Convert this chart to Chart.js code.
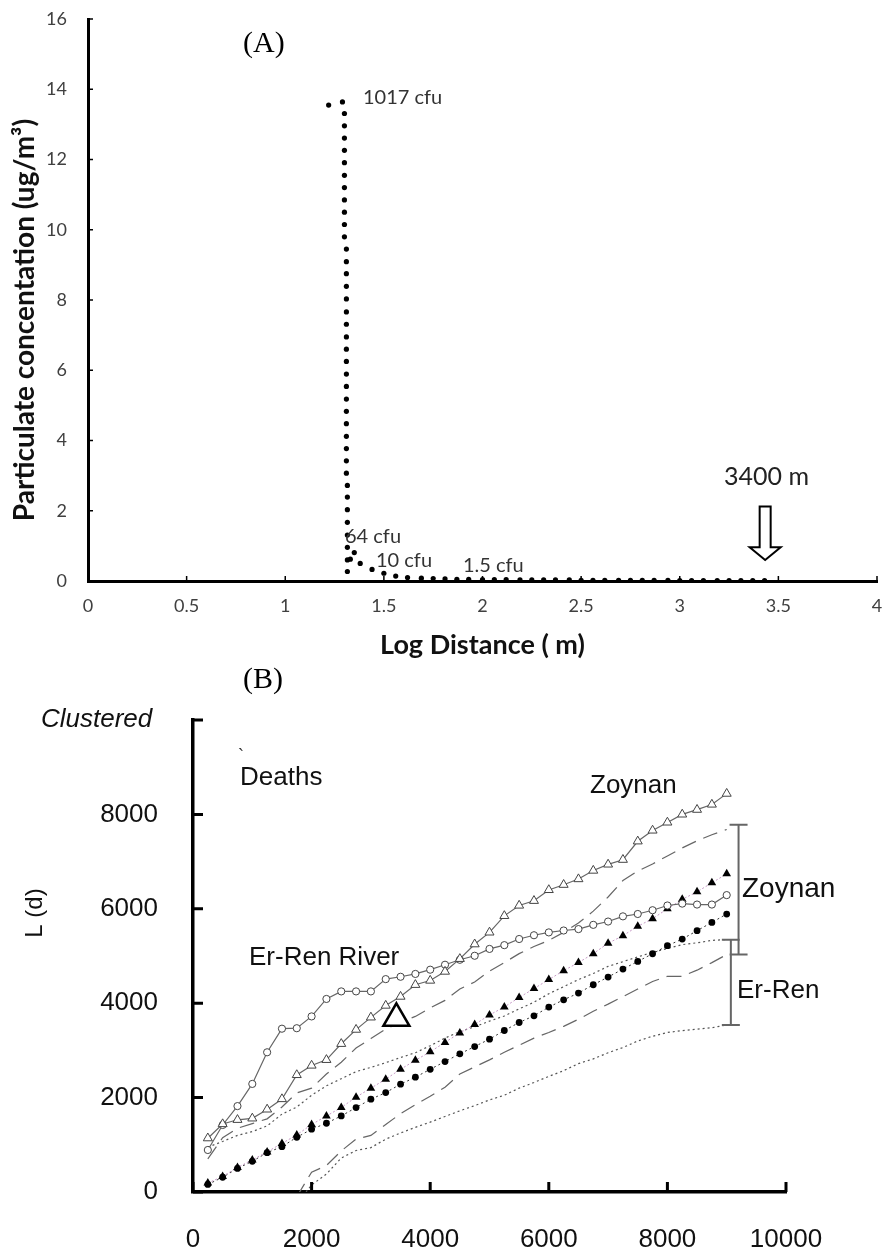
<!DOCTYPE html>
<html>
<head>
<meta charset="utf-8">
<script src="https://cdn.jsdelivr.net/npm/chart.js@4.4.1/dist/chart.umd.min.js"></script>
<style>
  body { margin: 0; background: #fff; width: 883px; height: 1257px; overflow: hidden; }
  .panel { position: absolute; left: 0; width: 883px; }
  #wrapA { top: 0; height: 665px; }
  #wrapB { top: 665px; height: 592px; }
</style>
</head>
<body>
<div class="panel" id="wrapA"><canvas id="chartA" width="883" height="665"></canvas></div>
<div class="panel" id="wrapB"><canvas id="chartB" width="883" height="592"></canvas></div>
<script>
// ---- (A) particulate concentration against log distance ----
// steep drop near the source
var dropX = [1.22, 1.29,
  1.30, 1.30, 1.30, 1.30, 1.30, 1.30, 1.30, 1.30, 1.30, 1.30, 1.30,
  1.31, 1.31, 1.31, 1.31, 1.31, 1.31, 1.31, 1.31, 1.31, 1.31, 1.31, 1.31, 1.31, 1.31, 1.31, 1.31, 1.31, 1.31, 1.31,
  1.315, 1.315, 1.315, 1.315, 1.315, 1.315, 1.315, 1.315];
var dropY = [13.55, 13.64,
  13.31, 12.96, 12.61, 12.26, 11.91, 11.55, 11.20, 10.85, 10.50, 10.15, 9.80,
  9.45, 9.09, 8.75, 8.39, 8.03, 7.66, 7.31, 6.95, 6.60, 6.25, 5.89, 5.54, 5.18, 4.83, 4.48, 4.12, 3.77, 3.42,
  3.07, 2.72, 2.39, 2.03, 1.67, 1.31, 0.96, 0.60, 0.27];
// the bend after 64 cfu
var bendX = [1.35, 1.33, 1.38, 1.44];
var bendY = [0.81, 0.62, 0.50, 0.33];
// long tail out to 3400 m
var tailX = [1.50, 1.56, 1.62, 1.69, 1.75, 1.81, 1.87, 1.93, 2.00, 2.06, 2.12, 2.19, 2.25, 2.31, 2.37, 2.44,
  2.50, 2.56, 2.62, 2.69, 2.75, 2.81, 2.87, 2.94, 3.00, 3.06, 3.12, 3.19, 3.25, 3.31, 3.37, 3.43];
var tailY = [0.22, 0.14, 0.10, 0.08, 0.07, 0.06, 0.05, 0.05, 0.04, 0.04, 0.04, 0.03, 0.03, 0.03, 0.03, 0.03,
  0.02, 0.02, 0.02, 0.02, 0.02, 0.02, 0.02, 0.02, 0.01, 0.01, 0.01, 0.01, 0.01, 0.01, 0.01, 0.01];
var arrowAt = 3.433;

// ---- (B) L(d) curves ----
var distB = [250, 500, 750, 1000, 1250, 1500, 1750, 2000, 2250, 2500, 2750, 3000, 3250, 3500, 3750, 4000, 4250, 4500,
  4750, 5000, 5250, 5500, 5750, 6000, 6250, 6500, 6750, 7000, 7250, 7500, 7750, 8000, 8250, 8500, 8750, 9000];
var zoynanObs = [1140, 1440, 1530, 1560, 1750, 1970, 2480, 2680, 2800, 3140, 3440, 3700, 3950, 4140, 4390, 4480, 4670, 4940,
  5250, 5500, 5850, 6070, 6170, 6400, 6510, 6630, 6810, 6940, 7040, 7430, 7660, 7830, 8000, 8100, 8210, 8440];
var errenObs = [890, 1420, 1820, 2290, 2960, 3460, 3470, 3720, 4090, 4250, 4250, 4250, 4510, 4560, 4620, 4710, 4815, 4920,
  5005, 5150, 5230, 5360, 5440, 5500, 5540, 5570, 5660, 5730, 5840, 5890, 5970, 6070, 6110, 6090, 6090, 6290];
var zoynanMean = [190, 330, 520, 680, 850, 1030, 1210, 1430, 1610, 1790, 2010, 2200, 2390, 2600, 2790, 2970, 3170, 3370,
  3550, 3750, 3920, 4120, 4310, 4500, 4690, 4860, 5050, 5270, 5430, 5630, 5790, 6000, 6200, 6360, 6550, 6740];
var errenMean = [160, 312, 500, 650, 834, 961, 1160, 1330, 1457, 1612, 1788, 1966, 2106, 2284, 2432, 2600, 2764, 2927,
  3082, 3238, 3422, 3591, 3733, 3917, 4072, 4214, 4391, 4554, 4723, 4885, 5048, 5218, 5359, 5536, 5712, 5889];
var zoynanHi = [700, 1150, 1350, 1450, 1550, 1800, 2100, 2200, 2500, 2750, 3050, 3250, 3450, 3600, 3720, 3900, 4060, 4300,
  4450, 4680, 4860, 5050, 5200, 5330, 5500, 5700, 5950, 6250, 6600, 6800, 6950, 7120, 7290, 7440, 7570, 7680];
var errenHi = [950, 1070, 1200, 1280, 1400, 1650, 1800, 2050, 2250, 2400, 2550, 2640, 2740, 2850, 2950, 3100, 3260, 3400,
  3500, 3620, 3730, 3880, 4020, 4200, 4350, 4500, 4630, 4780, 4880, 4980, 5080, 5160, 5240, 5280, 5330, 5350];
var distLow = [1750, 2000, 2250, 2500, 2750, 3000, 3250, 3500, 3750, 4000, 4250, 4500, 4750, 5000, 5250,
  5500, 5750, 6000, 6250, 6500, 6750, 7000, 7250, 7500, 7750, 8000, 8250, 8500, 8750, 9000];
var zoynanLo = [-100, 420, 560, 870, 1120, 1200, 1430, 1660, 1850, 2030, 2220, 2500, 2650, 2800, 2960,
  3110, 3260, 3380, 3510, 3660, 3830, 3980, 4140, 4300, 4460, 4570, 4570, 4700, 4860, 5030];
var errenLo = [-250, 150, 380, 720, 880, 940, 1120, 1250, 1370, 1480, 1600, 1720, 1830, 1950, 2050,
  2200, 2320, 2450, 2570, 2720, 2820, 2950, 3060, 3200, 3300, 3380, 3420, 3450, 3480, 3540];
var bracketX = [9200, 9070];
var bracketLo = [5030, 3540];
var bracketHi = [7780, 5345];
var bigMark = [{ x: 3430, y: 3680 }];

function pairs(xs, ys) {
  return xs.map(function (x, i) { return { x: x, y: ys[i] }; });
}

Chart.defaults.animation = false;
Chart.defaults.events = [];

// keep the plot box where the layout padding puts it
function fixWidth(w) {
  return function (s) { s.width = w; s.paddingTop = 0; s.paddingBottom = 0; s.paddingLeft = 0; s.paddingRight = 0; };
}
function fixHeight(h) {
  return function (s) { s.height = h; s.paddingTop = 0; s.paddingBottom = 0; s.paddingLeft = 0; s.paddingRight = 0; };
}

// small tick marks pointing into the plot
var innerTicks = {
  id: 'innerTicks',
  afterDraw: function (chart, args, o) {
    var ctx = chart.ctx, a = chart.chartArea;
    var xs = chart.scales.x, ys = chart.scales.y;
    ctx.save();
    ctx.strokeStyle = o.color;
    ctx.lineWidth = o.width;
    ctx.beginPath();
    xs.ticks.forEach(function (t) {
      var px = xs.getPixelForValue(t.value);
      ctx.moveTo(px, a.bottom + o.out);
      ctx.lineTo(px, a.bottom - o.len);
    });
    ys.ticks.forEach(function (t) {
      var py = ys.getPixelForValue(t.value);
      ctx.moveTo(a.left - o.out, py);
      ctx.lineTo(a.left + o.len, py);
    });
    ctx.stroke();
    ctx.restore();
  }
};

// free text on the canvas
var notes = {
  id: 'notes',
  afterDraw: function (chart, args, o) {
    var ctx = chart.ctx;
    (o.items || []).forEach(function (n) {
      ctx.save();
      ctx.font = n.font;
      ctx.fillStyle = n.color || '#000';
      ctx.textAlign = n.align || 'left';
      ctx.textBaseline = n.baseline || 'alphabetic';
      ctx.translate(n.x, n.y);
      if (n.rotate) ctx.rotate(n.rotate);
      ctx.fillText(n.text, 0, 0);
      ctx.restore();
    });
  }
};

// hollow arrow pointing down at the 3400 m mark
var downArrow = {
  id: 'downArrow',
  afterDatasetsDraw: function (chart, args, o) {
    if (o.at === undefined) return;
    var ctx = chart.ctx, xs = chart.scales.x, ys = chart.scales.y;
    var cx = xs.getPixelForValue(o.at);
    var top = ys.getPixelForValue(o.from), neck = ys.getPixelForValue(o.neck), tip = ys.getPixelForValue(o.to);
    var sw = o.shaft / 2, hw = o.head / 2;
    ctx.save();
    ctx.beginPath();
    ctx.moveTo(cx - sw, top);
    ctx.lineTo(cx + sw, top);
    ctx.lineTo(cx + sw, neck);
    ctx.lineTo(cx + hw, neck);
    ctx.lineTo(cx, tip);
    ctx.lineTo(cx - hw, neck);
    ctx.lineTo(cx - sw, neck);
    ctx.closePath();
    ctx.fillStyle = '#fff';
    ctx.fill();
    ctx.lineWidth = 2;
    ctx.strokeStyle = '#000';
    ctx.stroke();
    ctx.restore();
  }
};

// range brackets at the right end of the curves
var brackets = {
  id: 'brackets',
  afterDatasetsDraw: function (chart, args, o) {
    if (!o.x) return;
    var ctx = chart.ctx, xs = chart.scales.x, ys = chart.scales.y;
    ctx.save();
    ctx.strokeStyle = o.color;
    ctx.lineWidth = o.width;
    ctx.beginPath();
    o.x.forEach(function (x, i) {
      var px = xs.getPixelForValue(x);
      var lo = ys.getPixelForValue(o.lo[i]), hi = ys.getPixelForValue(o.hi[i]);
      ctx.moveTo(px, lo); ctx.lineTo(px, hi);
      ctx.moveTo(px - o.cap, hi); ctx.lineTo(px + o.cap, hi);
      ctx.moveTo(px - o.cap, lo); ctx.lineTo(px + o.cap, lo);
    });
    ctx.stroke();
    ctx.restore();
  }
};

var fontA = 'Lato';
var fontB = 'Liberation Sans';

// ---------- chart A ----------
new Chart(document.getElementById('chartA'), {
  type: 'scatter',
  data: {
    datasets: [{
      data: pairs(dropX, dropY).concat(pairs(bendX, bendY), pairs(tailX, tailY)),
      pointRadius: 2.6,
      pointBackgroundColor: '#000',
      pointBorderWidth: 0,
      showLine: false
    }]
  },
  options: {
    responsive: false,
    layout: { padding: { top: 19, right: 6, left: 0, bottom: 0 } },
    scales: {
      x: {
        type: 'linear', min: 0, max: 4,
        grid: { display: false, drawTicks: false },
        border: { display: true, color: '#000', width: 3 },
        ticks: { stepSize: 0.5, padding: 14, color: '#404040', font: { family: fontA, size: 18 },
          callback: function (v) { return String(Math.round(v * 10) / 10); } },
        title: { display: true, text: 'Log Distance ( m)', color: '#111', padding: { top: 0, bottom: 4 },
          font: { family: fontA, size: 27, weight: 'bold' } },
        afterFit: fixHeight(84)
      },
      y: {
        type: 'linear', min: 0, max: 16,
        grid: { display: false, drawTicks: false },
        border: { display: true, color: '#000', width: 3 },
        ticks: { stepSize: 2, padding: 21, color: '#404040', font: { family: fontA, size: 18 } },
        afterFit: fixWidth(88)
      }
    },
    plugins: {
      legend: { display: false },
      tooltip: { enabled: false },
      innerTicks: { color: '#000', width: 1.5, len: 5, out: 0 },
      downArrow: { at: arrowAt, from: 2.12, neck: 0.96, to: 0.60, shaft: 11, head: 31 },
      notes: { items: [
        { text: 'Particulate concentation (ug/m\u00b3)', x: 25, y: 320, font: 'bold 28px ' + fontA, color: '#111',
          align: 'center', baseline: 'middle', rotate: -Math.PI / 2 },
        { text: '(A)', x: 243, y: 52, font: '30px "Liberation Serif"', color: '#000' },
        { text: '1017 cfu', x: 363, y: 104, font: '20px ' + fontA, color: '#333' },
        { text: '64 cfu', x: 345, y: 543, font: '20px ' + fontA, color: '#333' },
        { text: '10 cfu', x: 376, y: 567, font: '20px ' + fontA, color: '#333' },
        { text: '1.5 cfu', x: 463, y: 572, font: '20px ' + fontA, color: '#333' },
        { text: '3400 m', x: 724, y: 485, font: '25px ' + fontA, color: '#222' }
      ] }
    }
  },
  plugins: [innerTicks, downArrow, notes]
});

// ---------- chart B ----------
new Chart(document.getElementById('chartB'), {
  type: 'line',
  data: {
    datasets: [
      { data: bigMark, showLine: false, pointStyle: 'triangle', pointRadius: 15,
        pointBackgroundColor: '#fff', pointBorderColor: '#000', pointBorderWidth: 2.5 },
      { data: pairs(distB, zoynanObs), borderColor: '#666', borderWidth: 1.2, pointStyle: 'triangle', pointRadius: 5.2,
        pointBackgroundColor: '#fff', pointBorderColor: '#444', pointBorderWidth: 1 },
      { data: pairs(distB, errenObs), borderColor: '#666', borderWidth: 1.2, pointStyle: 'circle', pointRadius: 3.6,
        pointBackgroundColor: '#fff', pointBorderColor: '#444', pointBorderWidth: 1 },
      { data: pairs(distB, zoynanMean), borderColor: '#c79ac7', borderWidth: 1, borderDash: [2, 2],
        pointStyle: 'triangle', pointRadius: 5, pointBackgroundColor: '#000', pointBorderColor: '#000', pointBorderWidth: 0 },
      { data: pairs(distB, errenMean), borderColor: '#333', borderWidth: 1, borderDash: [2, 3],
        pointStyle: 'circle', pointRadius: 3.4, pointBackgroundColor: '#000', pointBorderColor: '#000', pointBorderWidth: 0 },
      { data: pairs(distB, zoynanHi), borderColor: '#666', borderWidth: 1.2, borderDash: [15, 8], pointRadius: 0 },
      { data: pairs(distLow, zoynanLo), borderColor: '#666', borderWidth: 1.2, borderDash: [15, 8], pointRadius: 0 },
      { data: pairs(distB, errenHi), borderColor: '#555', borderWidth: 1.2, borderDash: [2, 3], pointRadius: 0 },
      { data: pairs(distLow, errenLo), borderColor: '#555', borderWidth: 1.2, borderDash: [2, 3], pointRadius: 0 }
    ]
  },
  options: {
    responsive: false,
    layout: { padding: { top: 55, right: 97, left: 0, bottom: 0 } },
    scales: {
      x: {
        type: 'linear', min: 0, max: 10000,
        grid: { display: false, drawTicks: false },
        border: { display: true, color: '#000', width: 3.5 },
        ticks: { stepSize: 2000, padding: 32, color: '#111', font: { family: fontB, size: 26 },
          callback: function (v) { return String(v); } },
        afterFit: fixHeight(65)
      },
      y: {
        type: 'linear', min: 0, max: 10000,
        grid: { display: false, drawTicks: false },
        border: { display: true, color: '#000', width: 3.5 },
        ticks: { stepSize: 2000, padding: 35, color: '#111', font: { family: fontB, size: 26 },
          callback: function (v) { return v === 10000 ? '' : String(v); } },
        afterFit: fixWidth(193)
      }
    },
    plugins: {
      legend: { display: false },
      tooltip: { enabled: false },
      innerTicks: { color: '#000', width: 3, len: 10, out: 0 },
      brackets: { x: bracketX, lo: bracketLo, hi: bracketHi, cap: 9, color: '#666', width: 2 },
      notes: { items: [
        { text: '(B)', x: 243, y: 23, font: '30px "Liberation Serif"', color: '#000' },
        { text: 'Clustered', x: 41, y: 62, font: 'italic 26px "' + fontB + '"', color: '#111' },
        { text: '`', x: 238, y: 97, font: '18px "' + fontB + '"', color: '#333' },
        { text: 'Deaths', x: 240, y: 120, font: '26px "' + fontB + '"', color: '#111' },
        { text: 'Zoynan', x: 590, y: 128, font: '26px "' + fontB + '"', color: '#111' },
        { text: 'Er-Ren River', x: 249, y: 300, font: '26px "' + fontB + '"', color: '#111' },
        { text: 'Zoynan', x: 742, y: 232, font: '28px "' + fontB + '"', color: '#111' },
        { text: 'Er-Ren', x: 737, y: 333, font: '26px "' + fontB + '"', color: '#111' },
        { text: 'L (d)', x: 42, y: 248, font: '24px "' + fontB + '"', color: '#111', align: 'center', rotate: -Math.PI / 2 }
      ] }
    }
  },
  plugins: [innerTicks, brackets, notes]
});
</script>
</body>
</html>
